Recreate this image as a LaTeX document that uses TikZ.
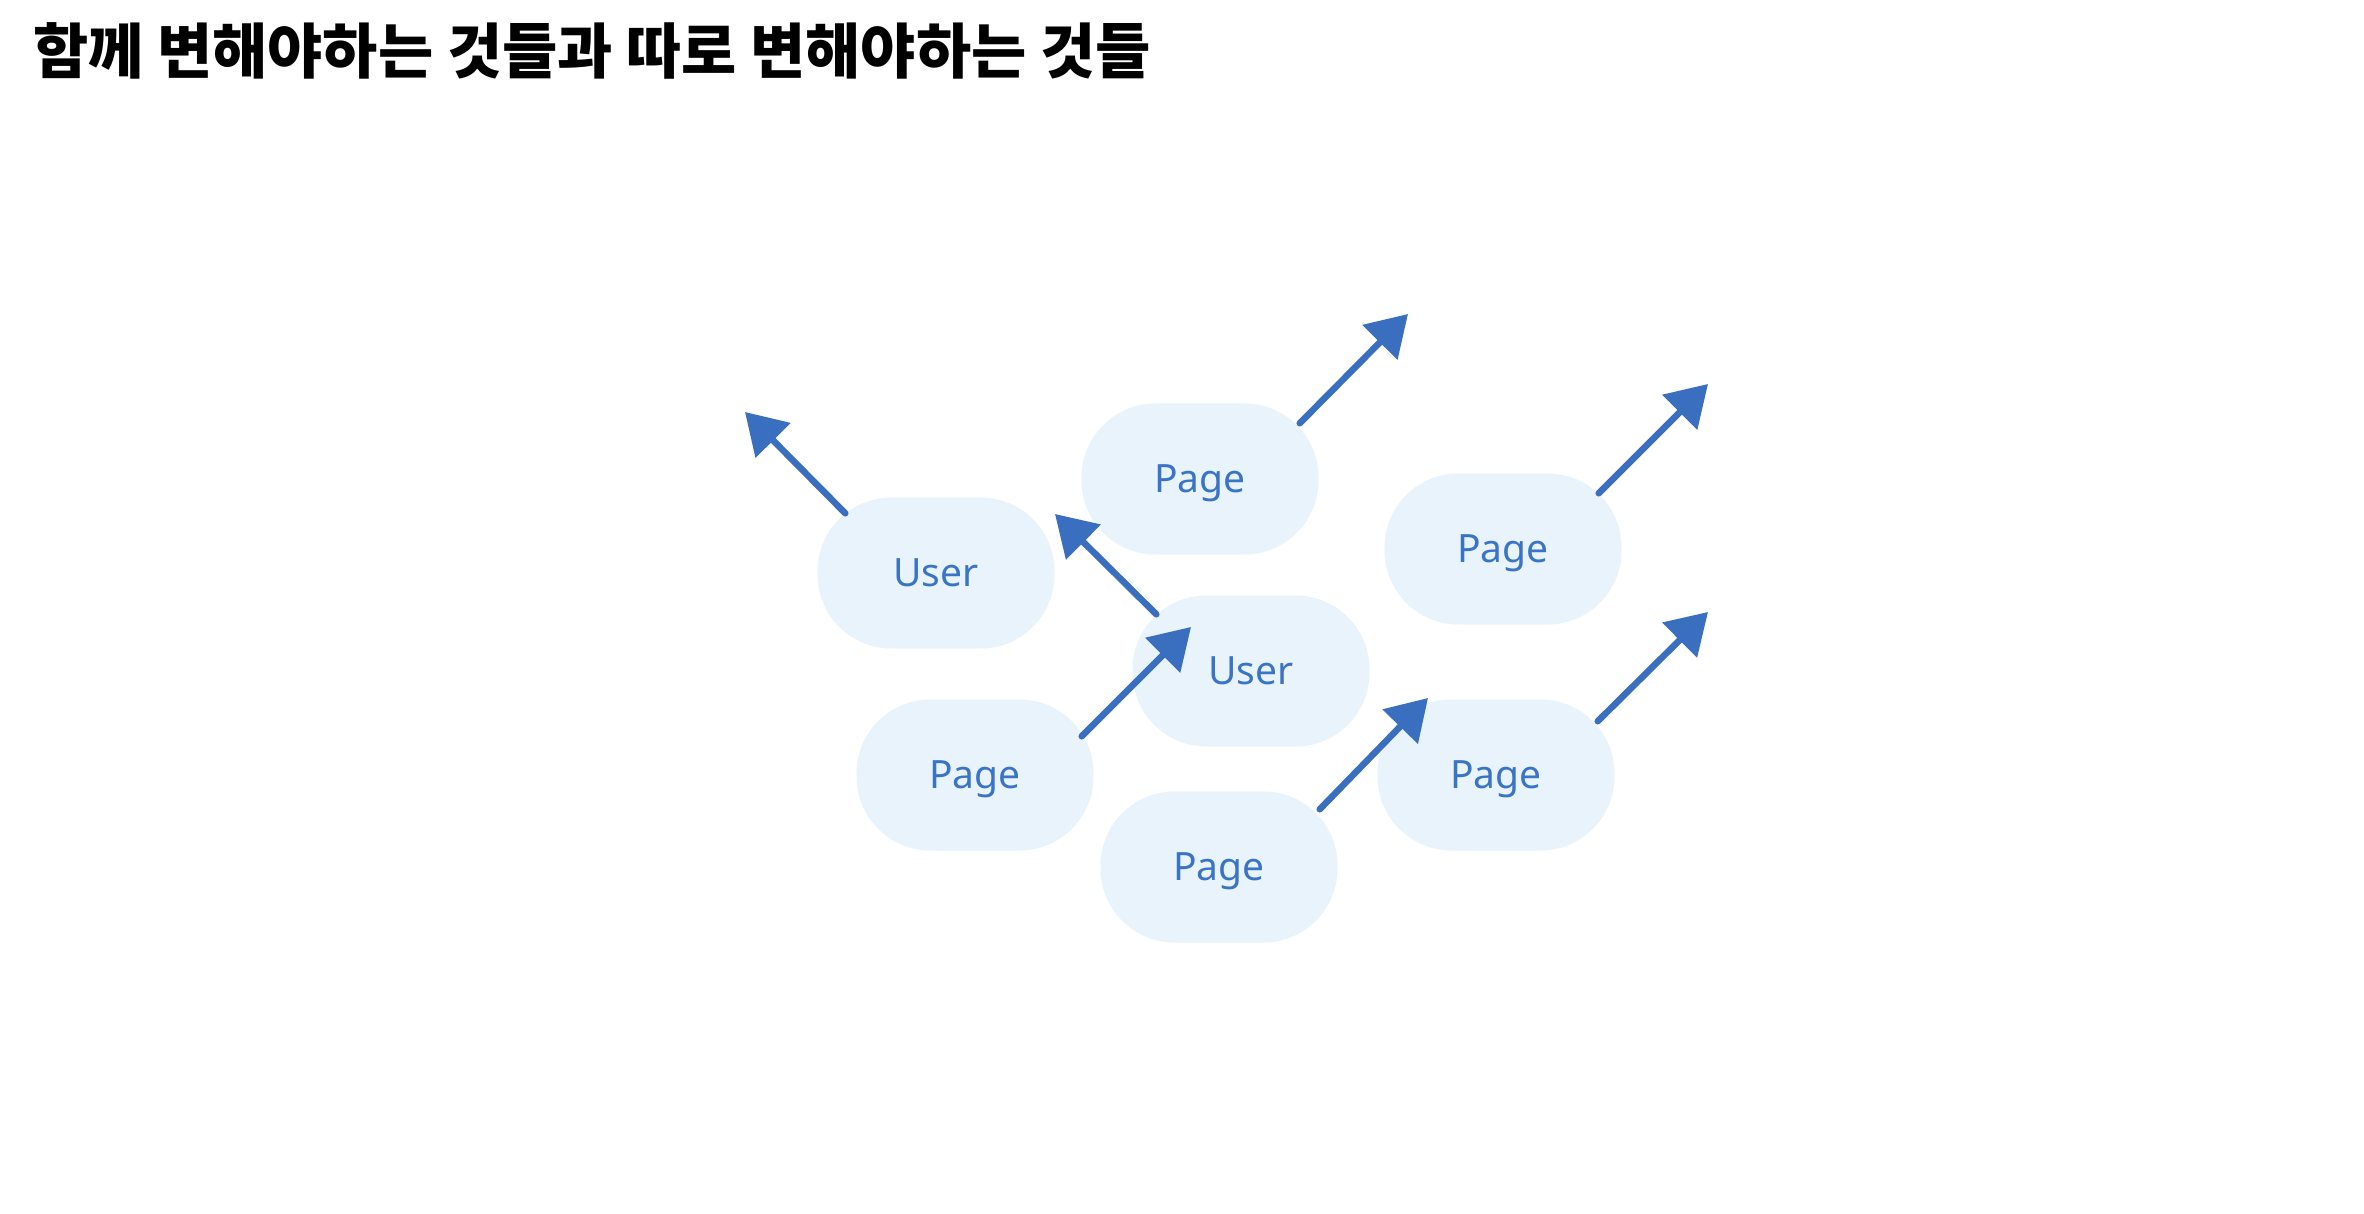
\documentclass[tikz,border=0pt]{standalone}
\usepackage{fontspec}
\setmainfont{Noto Sans}
\newfontfamily\krfont{Noto Sans CJK KR}
\usetikzlibrary{arrows.meta}
\definecolor{nodefill}{HTML}{E8F3FC}
\definecolor{nodetext}{HTML}{3A74C6}
\definecolor{arrowc}{HTML}{3A6FBF}
\begin{document}
\begin{tikzpicture}[x=1pt,y=-1pt,
  box/.style={fill=nodefill, rounded corners=74pt, minimum width=237pt, minimum height=151pt, inner sep=0pt, text height=27pt, text depth=0pt, text=nodetext, font=\fontsize{39}{44}\selectfont},
  arr/.style={draw=arrowc, line width=6.5pt, line cap=round, -{Triangle[length=40pt,width=48pt]}},
  title/.style={anchor=base west, inner sep=0pt, font=\krfont\bfseries\fontsize{60}{66}\selectfont}]
\useasboundingbox[fill=white] (0,0) rectangle (2364,1214);
\node[title] (ttl) at (33,74) {함께 변해야하는 것들과 따로 변해야하는 것들};
% nodes
\node[box] (u1) at (936,573) {User};
\node[box] (p1) at (1200,479) {Page};
\node[box] (p2) at (1503,549) {Page};
\node[box] (u2) at (1251,671) {User};
\node[box] (p3) at (975,775) {Page};
\node[box] (p4) at (1219,867) {Page};
\node[box] (p5) at (1496,775) {Page};
% arrow tips
\coordinate (t1) at (745,412);
\coordinate (t2) at (1408,314);
\coordinate (t3) at (1055,514);
\coordinate (t4) at (1191,627);
\coordinate (t5) at (1708,384);
\coordinate (t6) at (1428,698);
\coordinate (t7) at (1708,612);
% arrows
\draw[arr] ([shift={(28,16)}]u1.north west) -- (t1);
\draw[arr] ([shift={(-19,20)}]p1.north east) -- (t2);
\draw[arr] ([shift={(24,19)}]u2.north west) -- (t3);
\draw[arr] ([shift={(-12,37)}]p3.north east) -- (t4);
\draw[arr] ([shift={(-23,20)}]p2.north east) -- (t5);
\draw[arr] ([shift={(-18,18)}]p4.north east) -- (t6);
\draw[arr] ([shift={(-17,22)}]p5.north east) -- (t7);
\end{tikzpicture}
\end{document}
